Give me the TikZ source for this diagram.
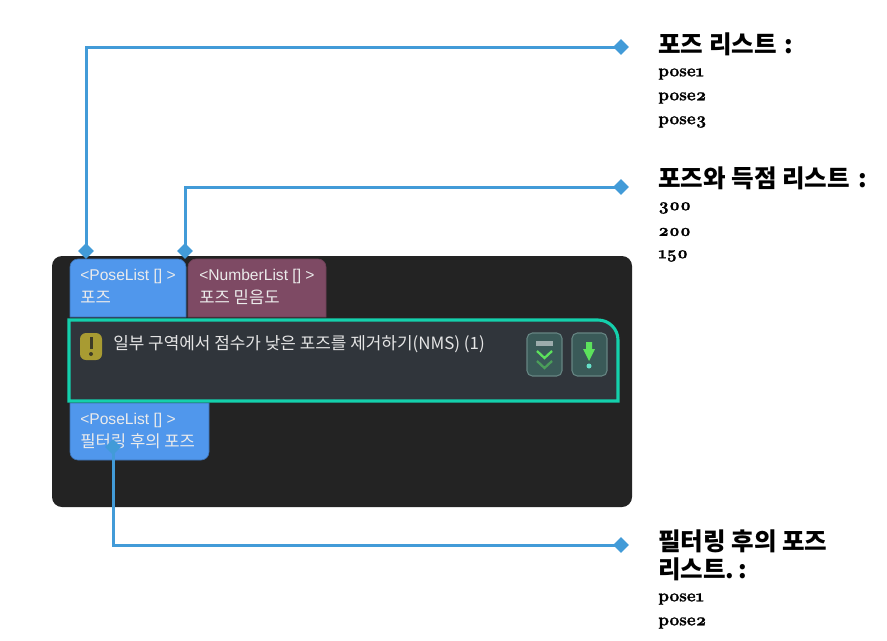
\documentclass[tikz,border=0pt]{standalone}
\usepackage{fontspec}
\setmainfont{Liberation Sans}
\newfontfamily\krfont{Noto Sans CJK KR}
\newfontfamily\uifont{Liberation Sans}
\newfontfamily\numfont[Numbers=OldStyle,BoldFeatures={FakeBold=1.2}]{Latin Modern Roman}
\usetikzlibrary{shapes.geometric}
\definecolor{panel}{HTML}{232323}
\definecolor{inner}{HTML}{30353B}
\definecolor{teal}{HTML}{14D0AC}
\definecolor{portblue}{HTML}{5097EC}
\definecolor{portred}{HTML}{7E4A64}
\definecolor{conn}{HTML}{429BD8}
\definecolor{warn}{HTML}{A89B32}
\definecolor{btn}{HTML}{3A5A58}
\definecolor{btnline}{HTML}{668583}
\definecolor{arrowgreen}{HTML}{5CE25C}
\tikzset{
  x=0.75pt,y=-0.75pt,
  connline/.style={draw=conn,line width=2.25pt},
  dia/.style={diamond,fill=conn,draw=none,minimum width=12pt,minimum height=12pt,inner sep=0pt},
  ui/.style={text=white!92!black,anchor=west,inner sep=0pt,font=\fontsize{11.7pt}{14pt}\uifont},
  uikr/.style={text=white!92!black,anchor=west,inner sep=0pt,font=\fontsize{12.5pt}{15pt}\krfont},
  head/.style={anchor=west,inner sep=0pt,font=\fontsize{18.4pt}{22pt}\krfont\bfseries,text=black},
  small/.style={anchor=west,inner sep=0pt,font=\fontsize{12.9pt}{15pt}\numfont\bfseries,text=black},
  iconbtn/.style={draw=btnline,fill=btn,line width=0.8pt,rounded corners=4pt},
  portblueshape/.style={fill=portblue,draw=portblue!75!black,line width=0.5pt},
  portredshape/.style={fill=portred,draw=portred!85!black,line width=0.5pt},
}
\begin{document}
\begin{tikzpicture}
\useasboundingbox (0,0) rectangle (887,640);
\fill[white] (0,0) rectangle (887,640);
% panel
\fill[panel,rounded corners=7.5pt] (52,256) rectangle (632,507);
% ports
\path[portblueshape] (70,317) [rounded corners=6pt] -- (70,259) -- (186,259) [sharp corners] -- (186,317) -- cycle;
\path[portredshape] (188,317) [rounded corners=6pt] -- (188,259) -- (326,259) [sharp corners] -- (326,317) -- cycle;
\path[portblueshape] (70,403) -- (209,403) [rounded corners=6pt] -- (209,460) -- (70,460) [sharp corners] -- cycle;
\node[ui] (p1a) at (80,276) {<PoseList [] >};
\node[uikr] (p1b) at (80,297) {포즈};
\node[ui] (p2a) at (199,276) {<NumberList [] >};
\node[uikr] (p2b) at (199,297) {포즈 믿음도};
\node[ui] (p3a) at (80,420) {<PoseList [] >};
\node[uikr] (p3b) at (80,441) {필터링 후의 포즈};
% step box
\path[fill=inner,draw=teal,line width=2.3pt] (69,320) [rounded corners=15pt] -- (618,320) [sharp corners] -- (618,401) -- (69,401) -- cycle;
\fill[warn,rounded corners=4.5pt] (80,333) rectangle (102,360);
\fill[panel!80!warn] (89.5,337) rectangle (92.5,349);
\fill[panel!80!warn] (91,354) circle[radius=2];
\node[anchor=west,inner sep=0pt,text=white!90!black,font=\fontsize{12.7pt}{15pt}\krfont] (title) at (113,344) {일부 구역에서 점수가 낮은 포즈를 제거하기(NMS) (1)};
% buttons
\path[iconbtn] (527,333) rectangle (562,376);
\fill[white!50!btn] (536,341) rectangle (553,346);
\draw[arrowgreen,line width=1.7pt] (537,351) -- (544.5,358) -- (552,351);
\draw[arrowgreen!50!btn,line width=1.7pt] (537,361) -- (544.5,368) -- (552,361);
\path[iconbtn] (572,333) rectangle (607,376);
\fill[arrowgreen] (586,342) -- (592,342) -- (592,349) -- (595,349) -- (589,361) -- (583,349) -- (586,349) -- cycle;
\fill[white!35!teal] (589,366) circle[radius=2.5];
% connector markers
\node[dia] (d1) at (86,251) {};
\node[dia] (d2) at (185,251) {};
\node[dia] (d3) at (113,447) {};
\node[dia] (e1) at (621,47) {};
\node[dia] (e2) at (621,187) {};
\node[dia] (e3) at (621,545) {};
\draw[connline] (d1.center) |- (e1.center);
\draw[connline] (d2.center) |- (e2.center);
\draw[connline] (d3.center) |- (e3.center);
% right texts
\node[head] (h1) at (658,44) {포즈 리스트\,\,:};
\node[small] (a1) at (658,74) {pose1};
\node[small] (a2) at (658,98) {pose2};
\node[small] (a3) at (658,122) {pose3};
\node[head] (h2) at (658,178) {포즈와 득점 리스트\,\,:};
\node[small] (b1) at (658,208) {300};
\node[small] (b2) at (658,232) {200};
\node[small] (b3) at (658,256) {150};
\node[head] (h3) at (658,541) {필터링 후의 포즈};
\node[head] (h4) at (658,569) {리스트.\,:};
\node[small] (c1) at (658,599) {pose1};
\node[small] (c2) at (658,623) {pose2};
\end{tikzpicture}
\end{document}
